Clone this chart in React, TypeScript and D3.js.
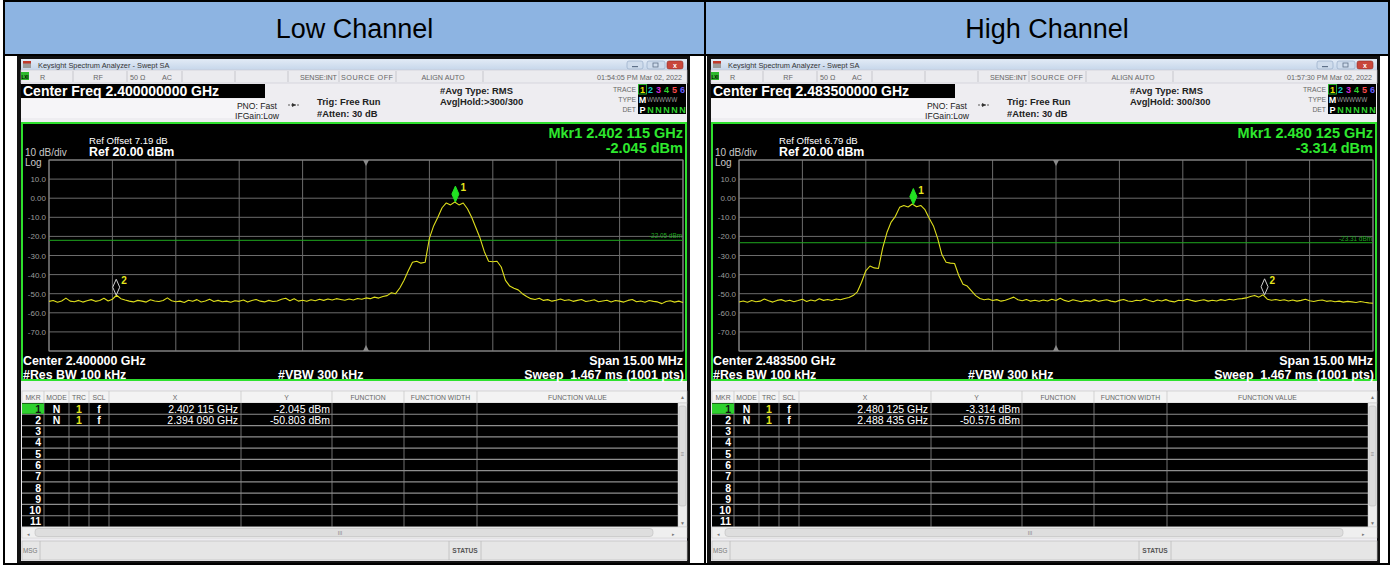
import React from 'react';
import * as d3 from 'd3';

const channels = ['Low Channel', 'High Channel'];
const centerFreqGHz = [2.4, 2.4835];
const spanMHz = 15;
const refLevelDbm = 20;
const dbPerDiv = 10;
const yTickValues = [10, 0, -10, -20, -30, -40, -50, -60, -70];
const yTickLabels = ['10.0', '0.00', '-10.0', '-20.0', '-30.0', '-40.0', '-50.0', '-60.0', '-70.0'];
const refOffsets = ['7.19', '6.79'];
const displayLineDbm = [-22.05, -23.31];
const timestamps = ['01:54:05 PM Mar 02, 2022', '01:57:30 PM Mar 02, 2022'];
const avgHold = ['Avg|Hold:>300/300', 'Avg|Hold: 300/300'];
const traceStepMHz = 0.1;

// trace 1, read every 0.1 MHz across the 15 MHz span
const lowTrace = [
  -54.0, -53.6, -54.5, -53.8, -52.3, -53.9, -54.2, -53.5, -54.4, -53.7,
  -53.1, -54.0, -53.6, -52.4, -53.8, -52.9, -50.8, -52.6, -53.3, -53.9,
  -54.3, -53.5, -53.9, -54.4, -53.2, -53.8, -54.1, -53.6, -52.2, -53.7,
  -54.2, -53.9, -54.6, -53.4, -54.0, -53.1, -54.3, -53.8, -52.9, -54.1,
  -53.5, -54.2, -53.9, -54.5, -53.7, -54.0, -53.3, -54.4, -53.6, -53.0,
  -53.9, -54.3, -53.5, -54.1, -53.8, -52.9, -52.4, -53.7, -52.6, -53.9,
  -53.4, -54.0, -53.2, -53.7, -52.9, -53.5, -52.8, -53.3, -52.6, -53.0,
  -53.4, -52.8, -53.3, -52.5, -52.9, -52.2, -52.6, -51.8, -52.3, -51.5,
  -51.0, -49.5, -50.0, -47.0, -43.0, -38.0, -33.5, -33.0, -34.0, -33.5,
  -21.0, -14.5, -10.0, -5.0, -2.5, -3.5, -2.0, -3.5, -2.5, -5.5,
  -10.0, -15.5, -21.0, -28.0, -33.0, -33.3, -33.0, -36.0, -43.0, -46.0,
  -47.2, -48.0, -50.0, -51.5, -52.6, -53.0, -52.4, -53.5, -53.1, -53.9,
  -53.4, -52.8, -53.6, -53.2, -54.0, -53.5, -53.0, -54.1, -53.7, -53.2,
  -54.2, -53.8, -53.4, -54.3, -53.6, -53.9, -54.4, -53.5, -53.0, -54.2,
  -53.8, -54.5, -53.6, -54.0, -54.3, -55.2, -54.1, -53.7, -54.4, -53.9, -54.6,
];

const highTrace = [
  -54.3, -53.8, -54.5, -53.6, -54.2, -53.9, -52.8, -53.7, -54.4, -53.5,
  -53.1, -54.0, -53.4, -54.2, -53.6, -52.9, -54.1, -53.3, -53.8, -52.7,
  -53.5, -53.0, -53.6, -52.8, -53.2, -52.5, -52.0, -51.0, -49.0, -44.0,
  -38.0, -35.5, -36.5, -36.8, -26.0, -18.0, -12.5, -9.5, -4.8, -3.8,
  -4.6, -3.0, -4.5, -3.8, -6.0, -10.5, -14.5, -21.0, -29.5, -33.5,
  -34.0, -34.2, -40.5, -45.0, -46.0, -48.5, -51.0, -52.5, -53.2, -52.8,
  -53.6, -53.1, -53.9, -53.4, -52.6, -51.8, -53.2, -53.7, -53.0, -53.9,
  -53.4, -54.0, -53.3, -53.8, -52.9, -53.6, -52.4, -53.5, -54.1, -53.2,
  -53.7, -54.2, -53.5, -53.9, -53.1, -54.0, -53.6, -53.2, -53.9, -54.3,
  -53.5, -53.0, -53.8, -54.1, -53.4, -53.7, -52.8, -53.6, -54.2, -53.3,
  -53.8, -53.1, -53.9, -54.3, -53.4, -53.7, -52.9, -53.5, -54.0, -53.6,
  -53.2, -53.9, -53.4, -53.8, -53.1, -53.6, -52.9, -53.3, -52.8, -52.6,
  -52.2, -51.5, -50.9, -51.8, -50.6, -52.9, -53.4, -53.0, -53.6, -53.2,
  -53.8, -53.3, -53.9, -53.5, -52.9, -53.7, -54.1, -53.6, -53.3, -54.0,
  -53.7, -54.2, -53.9, -54.4, -54.0, -54.3, -54.6, -54.1, -54.5, -54.8, -55.0,
];

const traces = [lowTrace, highTrace];
const markerFreqGHz = [[2.402115, 2.39409], [2.480125, 2.488435]];
const markerLevelDbm = [[-2.045, -50.803], [-3.314, -50.575]];
const markerRows = [1, 2, 3, 4, 5, 6, 7, 8, 9, 10, 11];
const tableHeaders = ['MKR', 'MODE', 'TRC', 'SCL', 'X', 'Y', 'FUNCTION', 'FUNCTION WIDTH', 'FUNCTION VALUE'];
const traceDigits = ['1', '2', '3', '4', '5', '6'];

const FONT = "'Liberation Sans', Arial, sans-serif";
const digitColors = ['#e8e800', '#19c8c8', '#d829d8', '#2ed12e', '#ff4a4a', '#6a5cff'];
const colEdges = [5, 27, 52, 72, 92, 224, 315, 387, 460, 661];

const fmtFreq = (f: number) => {
  const s = f.toFixed(6);
  return s.slice(0, 5) + ' ' + s.slice(5);
};

function Screen({ k, left }: { k: number; left: number }) {
  const c = centerFreqGHz[k];
  const half = spanMHz / 2000;
  const x = d3.scaleLinear().domain([c - half, c + half]).range([32, 666]);
  const y = d3.scaleLinear().domain([refLevelDbm - 10 * dbPerDiv, refLevelDbm]).range([351, 160]);
  const fAt = (i: number) => c - half + (i * traceStepMHz) / 1000;
  const line = d3.line<number>().x((_, i) => x(fAt(i))).y(d => y(d));
  const vLines = d3.range(11).map(i => x(c - half + (i * spanMHz) / 10000));
  const hLines = y.ticks(10);
  const cx = x(c);
  const rowH = 124 / 11;

  return (
    <g transform={`translate(${left},0)`} fontFamily={FONT}>
      {/* frame */}
      <rect x={0} y={56} width={673} height={507} fill="#111" />
      <rect x={4} y={59} width={666} height={502} fill="#eeedf1" />

      {/* title bar */}
      <rect x={4} y={59} width={666} height={11} fill="url(#titleGrad)" />
      <rect x={6} y={61} width={8} height={7} fill="#9a9a9a" />
      <rect x={6} y={61} width={8} height={2.5} fill="#c0392b" />
      <text x={21} y={67.5} fontSize={7.4} fill="#333">Keysight Spectrum Analyzer - Swept SA</text>
      <rect x={610} y={61} width={16} height={8} rx={2} fill="#cfdcec" stroke="#8fa5c2" strokeWidth={0.6} />
      <rect x={615} y={66} width={6} height={1.2} fill="#5d6f88" />
      <rect x={630} y={61} width={18} height={8} rx={2} fill="#cfdcec" stroke="#8fa5c2" strokeWidth={0.6} />
      <rect x={636} y={63} width={5} height={4} fill="none" stroke="#5d6f88" strokeWidth={0.8} />
      <rect x={650} y={61} width={16} height={8} rx={2} fill="#c9473b" stroke="#8e2e25" strokeWidth={0.6} />
      <text x={658} y={67.7} fontSize={7} fill="#fff" textAnchor="middle" fontWeight="bold">x</text>

      {/* status row */}
      <rect x={4} y={70} width={666} height={13} fill="#ebebef" stroke="#c7c7cf" strokeWidth={0.6} />
      <rect x={4} y={72} width={8} height={8} fill="#2eb82e" />
      <text x={8} y={78.5} fontSize={4.5} fill="#000" textAnchor="middle" fontWeight="bold">LXI</text>
      {[56, 110, 165, 218, 271, 322, 379, 466].map(s => (
        <line key={s} x1={s} x2={s} y1={71} y2={82} stroke="#b8b8c0" strokeWidth={0.7} />
      ))}
      <g fontSize={7.2} fill="#666">
        <text x={23} y={79.5}>R</text>
        <text x={81} y={79.5} textAnchor="middle">RF</text>
        <text x={113} y={79.5}>50 Ω</text>
        <text x={145} y={79.5}>AC</text>
        <text x={283} y={79.5} textLength={37}>SENSE:INT</text>
        <text x={324} y={79.5} textLength={52}>SOURCE OFF</text>
        <text x={426} y={79.5} textAnchor="middle">ALIGN AUTO</text>
        <text x={665} y={79.5} textAnchor="end">{timestamps[k]}</text>
      </g>

      {/* settings area */}
      <rect x={4} y={84} width={244} height={14} fill="#000" />
      <text x={6} y={96} fontSize={14} fontWeight="bold" fill="#fff">
        {`Center Freq ${c.toFixed(9)} GHz`}
      </text>
      <rect x={4} y={99} width={244} height={19} fill="#f6f5f8" />
      <g fontSize={8.6} fill="#222">
        <text x={260} y={108.5} textAnchor="end">PNO: Fast</text>
        <text x={262} y={118.5} textAnchor="end">IFGain:Low</text>
      </g>
      <line x1={271} x2={283} y1={105} y2={105} stroke="#333" strokeWidth={0.8} strokeDasharray="2 1" />
      <path d="M275,103 L279,105 L275,107 Z" fill="#333" />
      <g fontSize={9.4} fontWeight="bold" fill="#222">
        <text x={300} y={104.5}>Trig: Free Run</text>
        <text x={300} y={116.5}>#Atten: 30 dB</text>
        <text x={423} y={93.5}>#Avg Type: RMS</text>
        <text x={423} y={104.5}>{avgHold[k]}</text>
      </g>
      <g fontSize={6.8} fill="#666" textAnchor="end">
        <text x={619} y={92}>TRACE</text>
        <text x={619} y={102}>TYPE</text>
        <text x={619} y={112}>DET</text>
      </g>
      <rect x={621} y={84} width={48} height={30} fill="#000" />
      <rect x={621.5} y={84.5} width={8} height={9.5} fill="none" stroke="#2ed12e" strokeWidth={0.8} />
      {traceDigits.map((d, i) => (
        <text key={d} x={625.5 + i * 8} y={92.5} fontSize={9} fontWeight="bold" fill={digitColors[i]} textAnchor="middle">{d}</text>
      ))}
      <text x={625.5} y={102.5} fontSize={9} fontWeight="bold" fill="#fff" textAnchor="middle">M</text>
      <text x={630} y={102} fontSize={6.4} fill="#9a9a9a">WWWWW</text>
      <text x={625.5} y={112.5} fontSize={9} fontWeight="bold" fill="#fff" textAnchor="middle">P</text>
      {traceDigits.slice(1).map((d, i) => (
        <text key={d} x={633.5 + i * 8} y={112.5} fontSize={9} fontWeight="bold" fill="#2ed12e" textAnchor="middle">N</text>
      ))}

      {/* plot panel */}
      <rect x={5} y={123} width={664} height={257} fill="#000" stroke="#2ee02e" strokeWidth={2} />
      <g fill="#fff">
        <text x={72} y={144} fontSize={9.6}>{`Ref Offset ${refOffsets[k]} dB`}</text>
        <text x={72} y={156} fontSize={12.4} fontWeight="bold">{`Ref ${refLevelDbm.toFixed(2)} dBm`}</text>
      </g>
      <text x={8} y={156} fontSize={10} fill="#c8c8c8">10 dB/div</text>
      <text x={8} y={165.5} fontSize={10} fill="#c8c8c8">Log</text>
      <g fontSize={14.5} fontWeight="bold" fill="#2ee82e" textAnchor="end">
        <text x={666} y={138}>{`Mkr1 ${fmtFreq(markerFreqGHz[k][0])} GHz`}</text>
        <text x={666} y={153}>{`${markerLevelDbm[k][0].toFixed(3)} dBm`}</text>
      </g>

      {/* grid */}
      {hLines.map(v => (
        <line key={`h${v}`} x1={32} x2={666} y1={y(v)} y2={y(v)} stroke="#6c6c6c" strokeWidth={1} />
      ))}
      {vLines.map((vx, i) => (
        <line key={`v${i}`} x1={vx} x2={vx} y1={160} y2={351} stroke="#6c6c6c" strokeWidth={1} />
      ))}
      <rect x={32} y={160} width={634} height={191} fill="none" stroke="#8a8a8a" strokeWidth={1} />
      <path d={`M${cx - 3},160 L${cx + 3},160 L${cx},166 Z`} fill="#8a8a8a" />
      <path d={`M${cx - 3},351 L${cx + 3},351 L${cx},345 Z`} fill="#8a8a8a" />
      {yTickValues.map((v, i) => (
        <text key={v} x={29} y={y(v) + 3} fontSize={8} fill="#9c9c9c" textAnchor="end">{yTickLabels[i]}</text>
      ))}

      {/* display line */}
      <line x1={32} x2={666} y1={y(displayLineDbm[k])} y2={y(displayLineDbm[k])} stroke="#1fa71f" strokeWidth={1} />
      <text x={665} y={y(displayLineDbm[k]) - 2} fontSize={6.4} fill="#1fa71f" textAnchor="end">
        {`${displayLineDbm[k].toFixed(2)} dBm`}
      </text>

      {/* trace */}
      <path d={line(traces[k]) || ''} fill="none" stroke="#dede1c" strokeWidth={1.1} strokeLinejoin="round" />

      {/* markers */}
      {markerFreqGHz[k].map((f, i) => {
        const mx = x(f);
        const my = y(markerLevelDbm[k][i]);
        return (
          <g key={i}>
            <path
              d={`M${mx},${my} L${mx + 3.5},${my - 8} L${mx},${my - 16} L${mx - 3.5},${my - 8} Z`}
              fill={i === 0 ? '#22e022' : 'none'}
              stroke={i === 0 ? '#22e022' : '#d0d0d0'}
              strokeWidth={1}
            />
            <text x={mx + 5} y={my - 11} fontSize={10} fontWeight="bold" fill="#e6e61e">{i + 1}</text>
          </g>
        );
      })}

      {/* plot footer */}
      <g fontSize={12.4} fontWeight="bold" fill="#fff">
        <text x={6} y={364.5}>{`Center ${c.toFixed(6)} GHz`}</text>
        <text x={666} y={364.5} textAnchor="end">{`Span ${spanMHz.toFixed(2)} MHz`}</text>
        <text x={6} y={378.5}>#Res BW 100 kHz</text>
        <text x={261} y={378.5}>#VBW 300 kHz</text>
        <text x={667} y={378.5} textAnchor="end" style={{ whiteSpace: 'pre' }}>Sweep  1.467 ms (1001 pts)</text>
      </g>

      {/* marker table */}
      <rect x={5} y={391} width={665} height={12} fill="#f3f3f3" stroke="#c4c4c4" strokeWidth={0.6} />
      {colEdges.slice(1, -1).map(e => (
        <line key={`hc${e}`} x1={e} x2={e} y1={391} y2={403} stroke="#c4c4c4" strokeWidth={0.7} />
      ))}
      <g fontSize={6.8} fill="#666" textAnchor="middle">
        {tableHeaders.map((h, i) => (
          <text key={h} x={i === 0 ? 16 : (colEdges[i] + colEdges[i + 1]) / 2} y={399.5}>{h}</text>
        ))}
      </g>
      <text x={665.5} y={399} fontSize={5} fill="#777" textAnchor="middle">▲</text>
      <rect x={5} y={403} width={656} height={124} fill="#000" />
      {markerRows.map(r => (
        <line key={`rl${r}`} x1={5} x2={661} y1={403 + r * rowH} y2={403 + r * rowH} stroke="#8e8e8e" strokeWidth={1.2} />
      ))}
      {colEdges.slice(1, -1).map(e => (
        <line key={`bc${e}`} x1={e} x2={e} y1={403} y2={527} stroke="#8e8e8e" strokeWidth={0.8} />
      ))}
      <rect x={5} y={403.5} width={22} height={rowH - 1} fill="#2ed12e" />
      {markerRows.map((r, i) => (
        <text key={`rn${r}`} x={24} y={403 + i * rowH + 9.6} fontSize={10.5} fontWeight="bold"
          fill={i === 0 ? '#111' : '#fff'} textAnchor="end">{r}</text>
      ))}
      {markerFreqGHz[k].map((f, i) => {
        const by = 403 + i * rowH + 9.6;
        return (
          <g key={`mr${i}`} fontSize={10.5}>
            <text x={39.5} y={by} fill="#fff" fontWeight="bold" textAnchor="middle">N</text>
            <text x={62} y={by} fill="#e6e61e" fontWeight="bold" textAnchor="middle">1</text>
            <text x={82} y={by} fill="#fff" fontWeight="bold" textAnchor="middle">f</text>
            <text x={221} y={by} fill="#fff" textAnchor="end">{`${fmtFreq(f)} GHz`}</text>
            <text x={313} y={by} fill="#fff" textAnchor="end">{`${markerLevelDbm[k][i].toFixed(3)} dBm`}</text>
          </g>
        );
      })}
      {/* vertical scrollbar */}
      <rect x={661} y={403} width={9} height={124} fill="#ececec" stroke="#c4c4c4" strokeWidth={0.5} />
      <rect x={662} y={406} width={7} height={100} rx={2} fill="#dcdcdc" stroke="#b5b5b5" strokeWidth={0.5} />
      <text x={665.5} y={456} fontSize={6} fill="#888" textAnchor="middle">≡</text>
      <text x={665.5} y={525} fontSize={5} fill="#777" textAnchor="middle">▼</text>
      {/* horizontal scrollbar */}
      <rect x={5} y={527} width={665} height={11} fill="#efefef" stroke="#c8c8c8" strokeWidth={0.5} />
      <rect x={18} y={528.5} width={618} height={8} rx={3} fill="#dedede" stroke="#b5b5b5" strokeWidth={0.5} />
      <text x={11} y={535.5} fontSize={5} fill="#777" textAnchor="middle">◂</text>
      <text x={656} y={535.5} fontSize={5} fill="#777" textAnchor="middle">▸</text>
      <text x={323} y={535} fontSize={5.5} fill="#888" textAnchor="middle">III</text>
      {/* message bar */}
      <rect x={5} y={541} width={665} height={19} fill="#e6e6e6" stroke="#bdbdbd" strokeWidth={0.7} />
      <line x1={23} x2={23} y1={541} y2={560} stroke="#bdbdbd" strokeWidth={0.8} />
      <line x1={432} x2={432} y1={541} y2={560} stroke="#bdbdbd" strokeWidth={0.8} />
      <line x1={464} x2={464} y1={541} y2={560} stroke="#bdbdbd" strokeWidth={0.8} />
      <text x={6} y={553} fontSize={6.4} fill="#777">MSG</text>
      <text x={448} y={553} fontSize={6.6} fill="#555" textAnchor="middle" fontWeight="bold">STATUS</text>
    </g>
  );
}

export default function App() {
  return (
    <svg width={1393} height={565} style={{ position: 'absolute', left: 0, top: 0 }}>
      <defs>
        <linearGradient id="titleGrad" x1="0" y1="0" x2="0" y2="1">
          <stop offset="0" stopColor="#e2ebf6" />
          <stop offset="1" stopColor="#c6d6ea" />
        </linearGradient>
      </defs>
      <rect x={0} y={0} width={1393} height={565} fill="#fff" />
      <rect x={5} y={2} width={699} height={52} fill="#8db4e2" />
      <rect x={706} y={2} width={682} height={52} fill="#8db4e2" />
      <rect x={4} y={1} width={1385} height={563} fill="none" stroke="#000" strokeWidth={2} />
      <line x1={4} x2={1389} y1={55} y2={55} stroke="#000" strokeWidth={2} />
      <line x1={705} x2={705} y1={1} y2={564} stroke="#000" strokeWidth={2} />
      {channels.map((ch, i) => (
        <text key={ch} x={i === 0 ? 354.5 : 1047} y={37.5} fontSize={27} fontFamily={FONT}
          textAnchor="middle" fill="#000">{ch}</text>
      ))}
      <Screen k={0} left={17} />
      <Screen k={1} left={707} />
    </svg>
  );
}
